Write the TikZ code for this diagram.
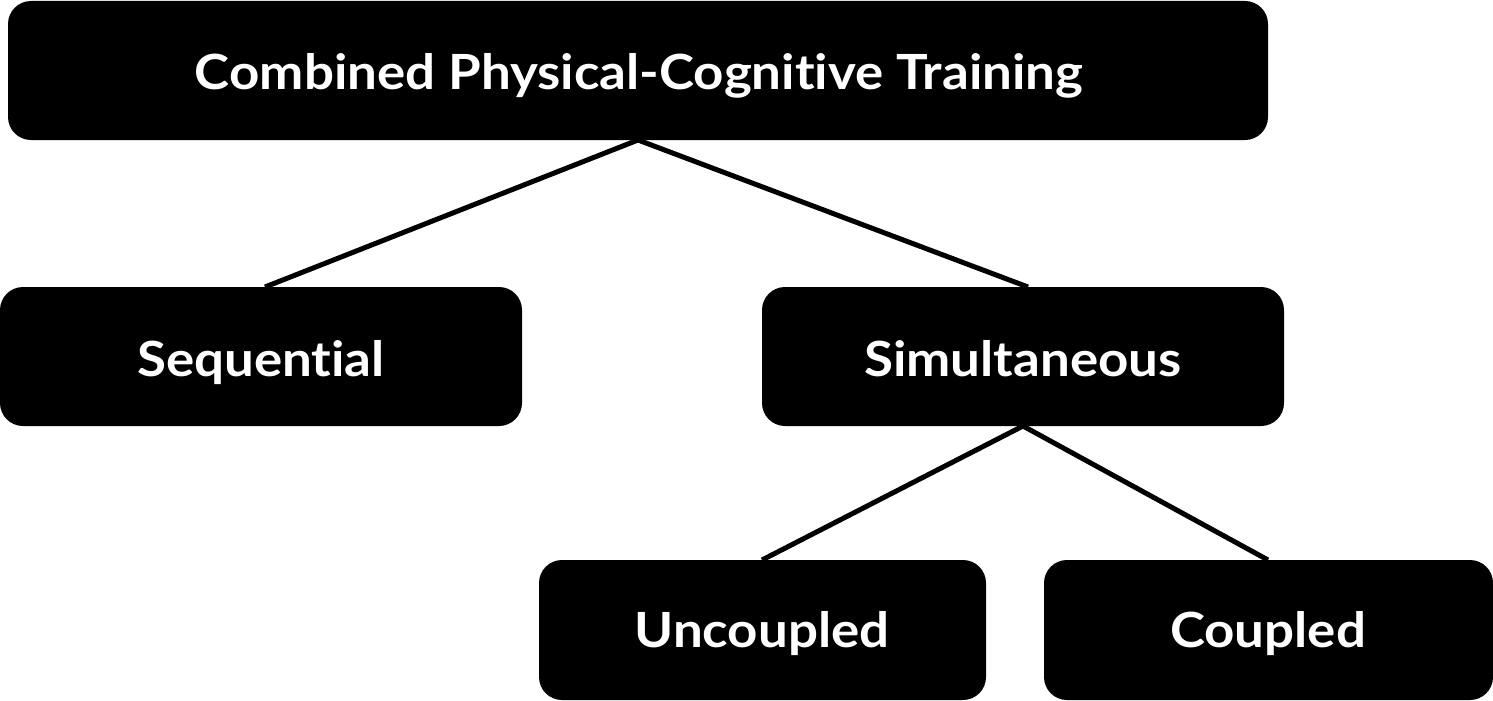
\documentclass[tikz,border=0pt]{standalone}
\usepackage{fontspec}
\setmainfont{Lato}[Ligatures={NoCommon},FakeStretch=1.09]
\begin{document}
\begin{tikzpicture}[x=1pt,y=-1pt,
  box/.style={fill=black,rounded corners=23pt,inner sep=0pt},
  lbl/.style={text=white,anchor=base,inner sep=0pt,font=\fontsize{48.5}{56}\selectfont\bfseries},
  conn/.style={line width=5pt,black}]
\useasboundingbox (0,0) rectangle (1493,701);
\fill[box] (8,1) rectangle (1268,140);
\fill[box] (0,287) rectangle (522,426);
\fill[box] (762,287) rectangle (1284,426);
\fill[box] (539,560) rectangle (986,700);
\fill[box] (1044,560) rectangle (1493,700);
\node[lbl] (top) at (639,89) {Combined Physical-Cognitive Training};
\node[lbl] (seq) at (261,376) {Sequential};
\node[lbl] (sim) at (1023,376) {Simultaneous};
\node[lbl] (unc) at (762,647) {Uncoupled};
\node[lbl] (cou) at (1268,647) {Coupled};
\coordinate (topb) at (638,140);
\coordinate (seqt) at (265,287);
\coordinate (simt) at (1028,287);
\coordinate (simb) at (1023,426);
\coordinate (unct) at (762,560);
\coordinate (cout) at (1268,560);
\draw[conn] (seqt) -- (topb) -- (simt);
\draw[conn] (unct) -- (simb) -- (cout);
\end{tikzpicture}
\end{document}
